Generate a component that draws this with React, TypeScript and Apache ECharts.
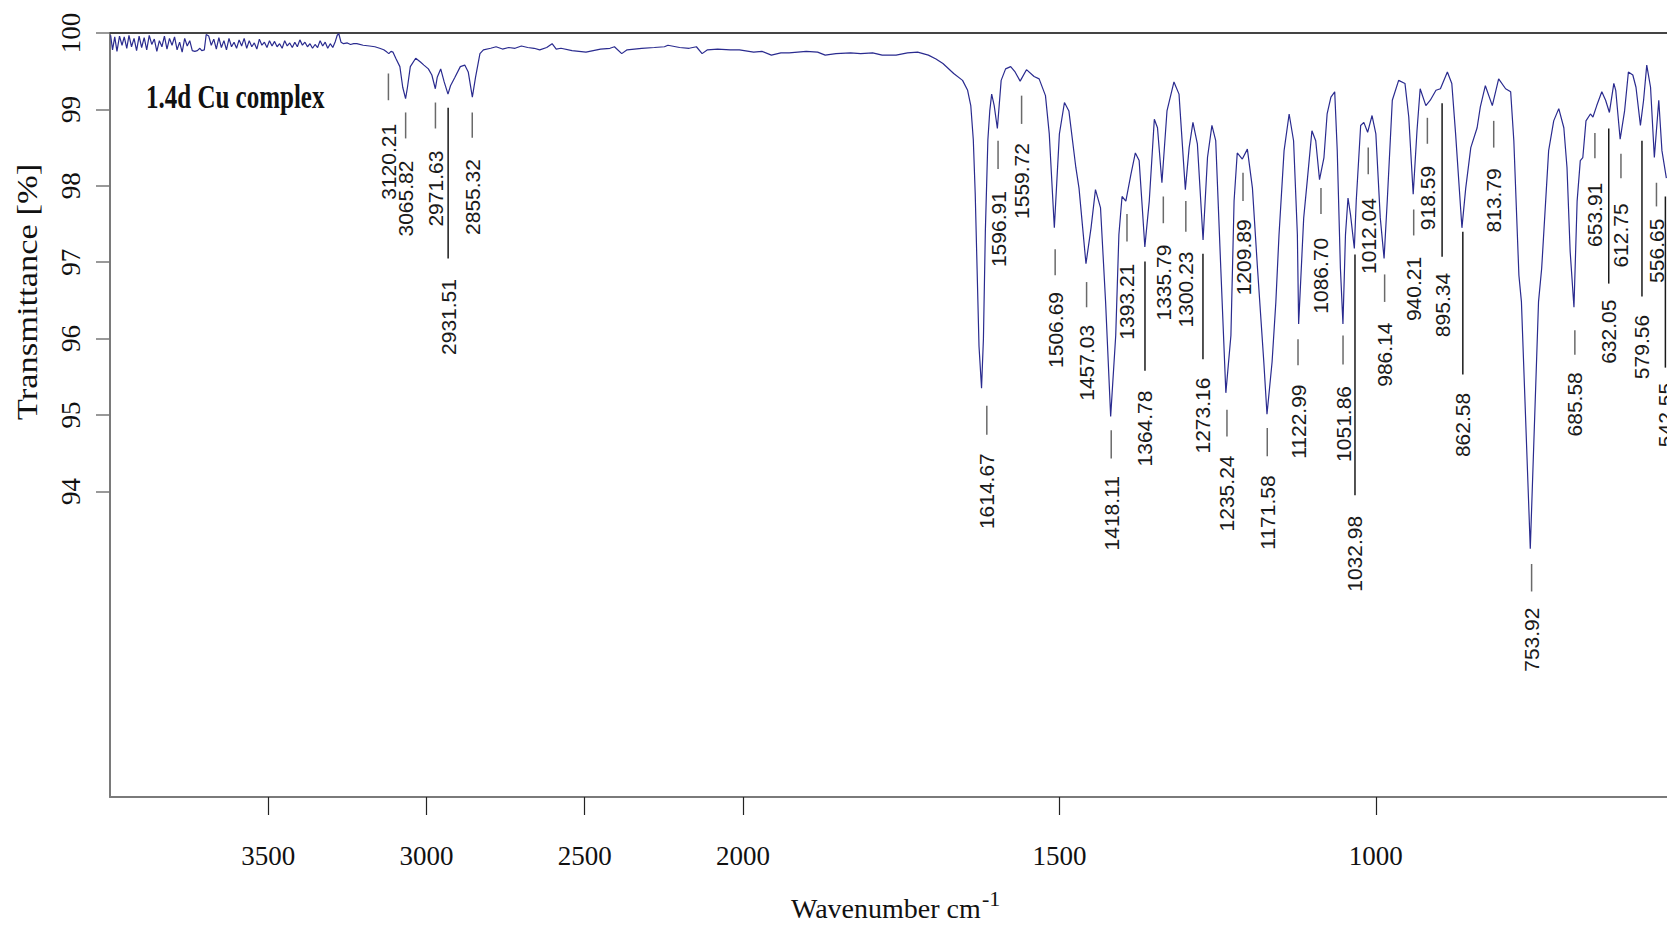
import React, { useEffect, useRef } from 'react';
import * as echarts from 'echarts';

// Scale break: the axis is expanded 2x below 2000 cm-1
const BREAK = 2000;
const toU = (wn: number) => (wn <= BREAK ? wn : BREAK + (wn - BREAK) / 2);
const fromU = (u: number) => (u <= BREAK ? u : BREAK + (u - BREAK) * 2);

const xTickLabels = [3500, 3000, 2500, 2000, 1500, 1000];
const yTickLabels = [94, 95, 96, 97, 98, 99, 100];
const xRange = [540, 4000];
const yRange = [90, 100];

const sampleName = '1.4d Cu complex';
const xTitle = 'Wavenumber cm';
const xTitleSup = '-1';
const yTitle = 'Transmittance [%]';

// spectrum: [wavenumber (cm-1), transmittance (%)]
const spectrum: [number, number][] = [
  [3998, 99.97], [3992, 99.78], [3985, 99.95], [3978, 99.76], [3970, 99.96], [3962, 99.84], [3955, 99.95],
  [3947, 99.8], [3940, 99.97], [3932, 99.82], [3924, 99.93], [3916, 99.77], [3908, 99.96], [3900, 99.81],
  [3892, 99.94], [3884, 99.78], [3876, 99.97], [3868, 99.85], [3860, 99.92], [3852, 99.76], [3844, 99.9],
  [3836, 99.82], [3828, 99.96], [3820, 99.79], [3812, 99.93], [3804, 99.84], [3796, 99.95], [3788, 99.78],
  [3780, 99.88], [3772, 99.75], [3764, 99.93], [3756, 99.83], [3748, 99.9], [3740, 99.77], [3732, 99.76],
  [3724, 99.77], [3716, 99.8], [3710, 99.77], [3702, 99.78], [3696, 99.98], [3688, 99.96], [3680, 99.84],
  [3672, 99.92], [3664, 99.79], [3656, 99.94], [3648, 99.81], [3640, 99.9], [3632, 99.78], [3624, 99.93],
  [3616, 99.82], [3608, 99.88], [3600, 99.8], [3592, 99.91], [3584, 99.83], [3576, 99.93], [3568, 99.8],
  [3560, 99.9], [3552, 99.82], [3544, 99.87], [3536, 99.79], [3528, 99.92], [3520, 99.84], [3512, 99.88],
  [3504, 99.81], [3496, 99.9], [3488, 99.83], [3480, 99.89], [3472, 99.82], [3464, 99.86], [3456, 99.8],
  [3448, 99.9], [3440, 99.83], [3432, 99.87], [3424, 99.81], [3416, 99.88], [3408, 99.82], [3400, 99.91],
  [3392, 99.84], [3384, 99.88], [3376, 99.82], [3368, 99.86], [3360, 99.8], [3352, 99.85], [3344, 99.81],
  [3336, 99.9], [3328, 99.83], [3320, 99.88], [3312, 99.8], [3304, 99.86], [3296, 99.81], [3288, 99.89],
  [3282, 99.97], [3277, 99.99], [3270, 99.88], [3262, 99.86], [3250, 99.87], [3240, 99.85], [3230, 99.86],
  [3220, 99.86], [3200, 99.84], [3180, 99.83], [3163, 99.82], [3148, 99.8], [3135, 99.78], [3125, 99.75],
  [3119, 99.73], [3112, 99.76], [3106, 99.75], [3097, 99.67], [3084, 99.56], [3075, 99.29], [3066, 99.14],
  [3060, 99.29], [3051, 99.56], [3034, 99.67], [3019, 99.62], [3008, 99.58], [2994, 99.53], [2983, 99.45],
  [2972, 99.27], [2966, 99.42], [2955, 99.53], [2944, 99.36], [2932, 99.2], [2924, 99.31], [2910, 99.42],
  [2893, 99.56], [2879, 99.58], [2868, 99.49], [2855, 99.16], [2845, 99.42], [2831, 99.73], [2820, 99.78],
  [2797, 99.8], [2780, 99.82], [2760, 99.79], [2740, 99.81], [2720, 99.8], [2700, 99.83], [2680, 99.81],
  [2660, 99.8], [2642, 99.78], [2620, 99.81], [2603, 99.86], [2590, 99.79], [2575, 99.8], [2540, 99.77],
  [2496, 99.75], [2450, 99.79], [2420, 99.8], [2406, 99.82], [2383, 99.73], [2366, 99.78], [2320, 99.8],
  [2280, 99.81], [2248, 99.82], [2237, 99.84], [2200, 99.81], [2170, 99.8], [2147, 99.82], [2129, 99.73],
  [2112, 99.78], [2080, 99.79], [2040, 99.78], [2011, 99.78], [1983, 99.75], [1970, 99.76], [1955, 99.71],
  [1940, 99.74], [1927, 99.74], [1900, 99.76], [1882, 99.75], [1870, 99.71], [1853, 99.73], [1830, 99.74],
  [1814, 99.73], [1795, 99.74], [1780, 99.71], [1758, 99.71], [1740, 99.74], [1724, 99.75], [1707, 99.71],
  [1695, 99.66], [1684, 99.6], [1667, 99.47], [1653, 99.38], [1645, 99.25], [1640, 99.05], [1636, 98.6],
  [1633, 97.9], [1630, 96.9], [1627, 95.9], [1623, 95.35], [1620, 96.0], [1617, 97.4], [1613, 98.6],
  [1610, 98.98], [1607, 99.2], [1603, 99.05], [1598, 98.75], [1592, 99.38], [1585, 99.53], [1577, 99.56],
  [1570, 99.49], [1562, 99.37], [1552, 99.52], [1540, 99.43], [1532, 99.4], [1522, 99.18], [1516, 98.68],
  [1508, 97.45], [1500, 98.68], [1492, 99.09], [1485, 98.98], [1474, 98.24], [1469, 97.97], [1458, 96.98],
  [1450, 97.45], [1443, 97.95], [1435, 97.71], [1427, 96.48], [1419, 94.98], [1411, 96.04], [1406, 97.36],
  [1401, 97.86], [1395, 97.8], [1387, 98.15], [1380, 98.43], [1374, 98.33], [1369, 97.71], [1365, 97.2],
  [1358, 97.8], [1350, 98.87], [1345, 98.76], [1338, 98.04], [1330, 98.98], [1319, 99.36], [1311, 99.2],
  [1301, 97.95], [1295, 98.5], [1289, 98.83], [1282, 98.55], [1273, 97.29], [1266, 98.37], [1259, 98.79],
  [1253, 98.59], [1245, 96.92], [1237, 95.29], [1229, 96.04], [1224, 97.8], [1219, 98.43], [1211, 98.35],
  [1203, 98.48], [1195, 97.97], [1187, 96.92], [1177, 95.69], [1172, 95.01], [1164, 95.69], [1158, 96.48],
  [1153, 97.36], [1145, 98.46], [1137, 98.94], [1130, 98.59], [1124, 97.36], [1122, 96.19], [1114, 97.58],
  [1108, 98.1], [1101, 98.72], [1095, 98.59], [1089, 98.08], [1082, 98.37], [1077, 98.94], [1071, 99.16],
  [1065, 99.23], [1061, 98.46], [1056, 96.92], [1052, 96.19], [1048, 97.36], [1044, 97.84], [1040, 97.62],
  [1034, 97.18], [1031, 97.8], [1024, 98.79], [1019, 98.83], [1013, 98.7], [1006, 98.92], [1000, 98.68],
  [993, 97.58], [987, 97.05], [982, 97.8], [974, 99.12], [964, 99.38], [954, 99.34], [948, 98.9],
  [941, 97.89], [935, 98.72], [930, 99.27], [921, 99.05], [914, 99.12], [905, 99.25], [898, 99.27],
  [887, 99.49], [880, 99.34], [874, 98.68], [864, 97.45], [858, 97.97], [850, 98.5], [840, 98.76],
  [835, 99.03], [827, 99.31], [816, 99.05], [806, 99.4], [795, 99.27], [787, 99.23], [782, 98.59],
  [774, 96.83], [770, 96.48], [756, 93.25], [743, 96.48], [738, 96.92], [727, 98.46], [719, 98.85],
  [711, 99.01], [703, 98.76], [698, 98.24], [693, 97.14], [687, 96.41], [682, 97.8], [677, 98.33],
  [673, 98.37], [668, 98.85], [661, 98.94], [657, 98.9], [651, 99.05], [643, 99.23], [637, 99.12],
  [631, 98.96], [624, 99.34], [621, 99.25], [614, 98.61], [607, 98.98], [601, 99.49], [594, 99.45],
  [589, 99.29], [582, 98.79], [577, 99.12], [572, 99.58], [566, 99.29], [560, 98.37], [553, 99.12],
  [548, 98.46], [541, 98.1],
];

// peak annotations
const peakWn = [
  3120.21, 3065.82, 2971.63, 2931.51, 2855.32, 1614.67, 1596.91, 1559.72, 1506.69, 1457.03, 1418.11,
  1393.21, 1364.78, 1335.79, 1300.23, 1273.16, 1235.24, 1209.89, 1171.58, 1122.99, 1086.7, 1051.86,
  1032.98, 1012.04, 986.14, 940.21, 918.59, 895.34, 862.58, 813.79, 753.92, 685.58, 653.91, 632.05,
  612.75, 579.56, 556.65, 542.55,
];
// leader line top / bottom and label top, in transmittance units
const peakLineTop = [
  99.47, 98.96, 99.09, 99.02, 98.96, 95.12, 98.59, 99.18, 97.17, 96.74, 94.8,
  97.63, 97.01, 97.86, 97.8, 97.11, 95.07, 98.17, 94.83, 95.99, 97.97, 96.04,
  97.1, 98.5, 96.84, 97.69, 98.89, 99.08, 97.4, 98.85, 93.05, 96.11, 98.69, 98.75,
  98.42, 98.59, 98.04, 97.86,
];
const peakLineBottom = [
  99.12, 98.62, 98.75, 97.05, 98.63, 94.74, 98.22, 98.81, 96.83, 96.41, 94.43,
  97.27, 95.58, 97.51, 97.4, 95.73, 94.72, 97.8, 94.46, 95.65, 97.63, 95.66,
  93.95, 98.15, 96.48, 97.35, 98.55, 97.07, 95.53, 98.5, 92.69, 95.79, 98.36, 96.72,
  98.1, 96.55, 97.73, 95.62,
];
const peakLabelTop = [
  98.81, 98.33, 98.46, 96.78, 98.35, 94.5, 97.93, 98.56, 96.61, 96.18, 94.2,
  96.98, 95.32, 97.23, 97.14, 95.49, 94.47, 97.56, 94.21, 95.4, 97.32, 95.38,
  93.68, 97.84, 96.21, 97.07, 98.26, 96.86, 95.29, 98.23, 92.48, 95.56, 98.04, 96.51,
  97.77, 96.31, 97.57, 95.42,
];

const SERIF = '"Liberation Serif", "Times New Roman", serif';
const SANS = '"Liberation Sans", Arial, sans-serif';

export default function App() {
  const ref = useRef<HTMLDivElement>(null);

  useEffect(() => {
    if (!ref.current) return;
    const chart = echarts.init(ref.current, null, { renderer: 'svg' });

    const lineData = spectrum.map(([w, t]) => [toU(w), t]);
    const peakData = peakWn.map((w, i) => [toU(w), peakLineTop[i], peakLineBottom[i], peakLabelTop[i]]);
    const xMin = toU(xRange[0]);
    const xMax = toU(xRange[1]);

    const renderPeak = (params: any, api: any) => {
      const i = params.dataIndex;
      const u = api.value(0);
      const a = api.coord([u, api.value(1)]);
      const b = api.coord([u, api.value(2)]);
      const c = api.coord([u, api.value(3)]);
      const isLong = api.value(1) - api.value(2) > 0.8;
      return {
        type: 'group',
        children: [
          {
            type: 'line',
            shape: { x1: a[0], y1: a[1], x2: b[0], y2: b[1] },
            style: { stroke: isLong ? '#1a1a1a' : '#6a6a6a', lineWidth: 1.5 },
          },
          {
            type: 'text',
            x: c[0],
            y: c[1],
            rotation: Math.PI / 2,
            style: {
              text: peakWn[i].toFixed(2),
              fill: '#1a1a1a',
              font: `21px ${SANS}`,
              textAlign: 'right',
              textVerticalAlign: 'middle',
              align: 'right',
              verticalAlign: 'middle',
            },
          },
        ],
      };
    };

    const option: any = {
      animation: false,
      backgroundColor: '#ffffff',
      grid: { left: 110, right: 0, top: 33, bottom: 129, containLabel: false },
      xAxis: [
        {
          type: 'value',
          min: xMin,
          max: xMax,
          inverse: true,
          position: 'bottom',
          axisLine: { show: true, onZero: false, lineStyle: { color: '#7a7a7a', width: 2 } },
          axisTick: {
            show: true,
            customValues: xTickLabels.map(toU),
            length: 18,
            lineStyle: { color: '#222', width: 1.2 },
          },
          axisLabel: {
            show: true,
            customValues: xTickLabels.map(toU),
            formatter: (v: number) => String(Math.round(fromU(v))),
            margin: 45,
            fontSize: 27,
            fontFamily: SERIF,
            color: '#111',
          },
          splitLine: { show: false },
        },
        {
          type: 'value',
          min: xMin,
          max: xMax,
          inverse: true,
          position: 'top',
          axisLine: { show: true, onZero: false, lineStyle: { color: '#444', width: 2 } },
          axisTick: { show: false },
          axisLabel: { show: false },
          splitLine: { show: false },
        },
      ],
      yAxis: {
        type: 'value',
        min: yRange[0],
        max: yRange[1],
        axisLine: { show: true, onZero: false, lineStyle: { color: '#7a7a7a', width: 2 } },
        axisTick: { show: true, customValues: yTickLabels, length: 14, lineStyle: { color: '#777', width: 1.5 } },
        axisLabel: {
          show: true,
          customValues: yTickLabels,
          rotate: 90,
          margin: 26,
          fontSize: 27,
          fontFamily: SERIF,
          color: '#111',
        },
        splitLine: { show: false },
      },
      graphic: [
        {
          type: 'text',
          x: 146,
          y: 97,
          scaleY: 1.33,
          style: {
            text: sampleName,
            font: `bold 25px ${SERIF}`,
            fill: '#111',
            textAlign: 'left',
            textVerticalAlign: 'middle',
            align: 'left',
            verticalAlign: 'middle',
          },
        },
        {
          type: 'text',
          x: 791,
          y: 908,
          style: {
            text: xTitle,
            font: `28px ${SERIF}`,
            fill: '#111',
            textAlign: 'left',
            textVerticalAlign: 'middle',
            align: 'left',
            verticalAlign: 'middle',
          },
        },
        {
          type: 'text',
          x: 982,
          y: 898,
          style: {
            text: xTitleSup,
            font: `22px ${SERIF}`,
            fill: '#111',
            textAlign: 'left',
            textVerticalAlign: 'middle',
            align: 'left',
            verticalAlign: 'middle',
          },
        },
        {
          type: 'text',
          x: 27,
          y: 292,
          rotation: Math.PI / 2,
          scaleX: 1.15,
          style: {
            text: yTitle,
            font: `30px ${SERIF}`,
            fill: '#111',
            textAlign: 'center',
            textVerticalAlign: 'middle',
            align: 'center',
            verticalAlign: 'middle',
          },
        },
      ],
      series: [
        {
          type: 'custom',
          xAxisIndex: 0,
          yAxisIndex: 0,
          data: peakData,
          renderItem: renderPeak,
          clip: false,
          silent: true,
          z: 2,
        },
        {
          type: 'line',
          xAxisIndex: 0,
          yAxisIndex: 0,
          data: lineData,
          symbol: 'none',
          showSymbol: false,
          lineStyle: { color: '#2a2b8f', width: 1.2 },
          silent: true,
          z: 3,
        },
      ],
    };

    chart.setOption(option);
    return () => chart.dispose();
  }, []);

  return (
    <div
      ref={ref}
      style={{ position: 'absolute', left: 0, top: 0, width: 1667, height: 926, background: '#fff' }}
    />
  );
}
